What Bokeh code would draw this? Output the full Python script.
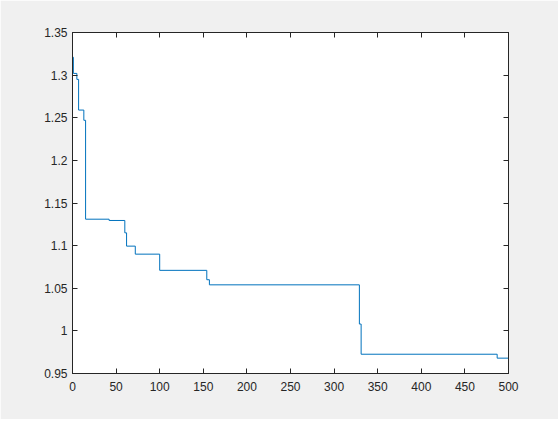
from bokeh.plotting import figure
from bokeh.models import Range1d, FixedTicker, LinearAxis
from bokeh.embed import file_html
from bokeh.resources import INLINE

# change points (iteration, value)
iters = [0, 1, 5, 7, 13, 15, 42, 60, 62, 72, 100, 154, 157, 329, 331, 487, 500]
vals = [1.321, 1.302, 1.295, 1.259, 1.247, 1.131, 1.1295, 1.115, 1.0994, 1.090,
        1.071, 1.060, 1.054, 1.008, 0.9726, 0.968, 0.968]

x_ticks = [0, 50, 100, 150, 200, 250, 300, 350, 400, 450, 500]
x_labels = ["0", "50", "100", "150", "200", "250", "300", "350", "400", "450", "500"]
y_ticks = [0.95, 1.0, 1.05, 1.1, 1.15, 1.2, 1.25, 1.3, 1.35]
y_labels = ["0.95", "1", "1.05", "1.1", "1.15", "1.2", "1.25", "1.3", "1.35"]

AX = "#262626"
FONT = "Liberation Sans"

p = figure(width=558, height=419, output_backend="svg", toolbar_location=None,
           x_range=Range1d(0, 500), y_range=Range1d(0.95, 1.35),
           min_border_left=72, min_border_right=50, min_border_top=32, min_border_bottom=46)
p.background_fill_color = "white"
p.border_fill_color = "#f0f0f0"
p.outline_line_color = AX
p.grid.visible = False

p.step(iters, vals, mode="after", line_color="#0072BD", line_width=1)

def style(ax, labels, ticks, show_labels=True, standoff=5):
    ax.ticker = FixedTicker(ticks=ticks)
    ax.major_label_overrides = {t: l for t, l in zip(ticks, labels)}
    ax.major_tick_in = 5
    ax.major_tick_out = 0
    ax.minor_tick_in = 0
    ax.minor_tick_out = 0
    ax.axis_line_color = AX
    ax.major_tick_line_color = AX
    ax.major_label_text_color = AX
    ax.major_label_text_font = FONT
    ax.major_label_text_font_size = "12px"
    ax.major_label_standoff = standoff
    if not show_labels:
        ax.major_label_text_color = None
        ax.major_label_standoff = 0

style(p.xaxis[0], x_labels, x_ticks, standoff=8)
style(p.yaxis[0], y_labels, y_ticks, standoff=5)

top = LinearAxis()
style(top, x_labels, x_ticks, show_labels=False)
p.add_layout(top, "above")
right = LinearAxis()
style(right, y_labels, y_ticks, show_labels=False)
p.add_layout(right, "right")

html = file_html(p, INLINE)
html = html.replace("<body>", '<body style="background:#f0f0f0">', 1)
open("out.html", "w").write(html)
